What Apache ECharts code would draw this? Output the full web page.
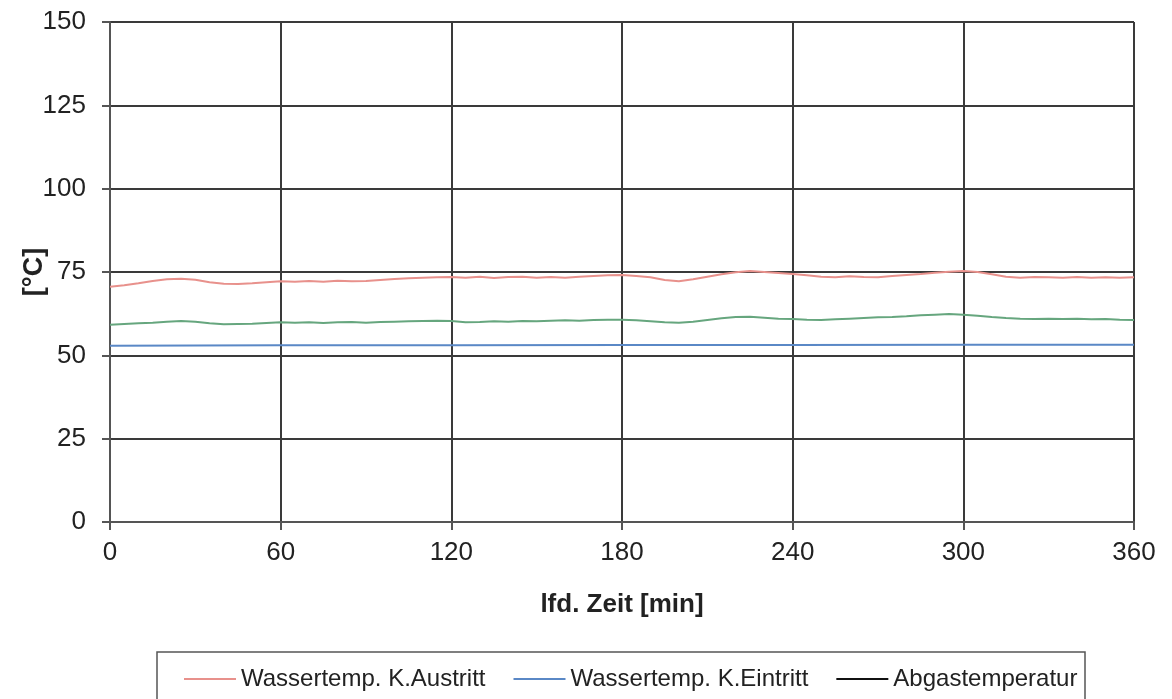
<!DOCTYPE html>
<html>
<head>
<meta charset="utf-8">
<script src="https://cdn.jsdelivr.net/npm/echarts@6/dist/echarts.min.js"></script>
<style>html,body{margin:0;padding:0;background:#fff}#c{width:1172px;height:699px}</style>
</head>
<body>
<div id="c"></div>
<script>
const times = [0,5,10,15,20,25,30,35,40,45,50,55,60,65,70,75,80,85,90,95,100,105,110,115,120,125,130,135,140,145,150,155,160,165,170,175,180,185,190,195,200,205,210,215,220,225,230,235,240,245,250,255,260,265,270,275,280,285,290,295,300,305,310,315,320,325,330,335,340,345,350,355,360];
const austritt = [70.6,71.0,71.6,72.3,72.8,73.0,72.7,71.9,71.5,71.4,71.6,71.9,72.2,72.1,72.3,72.1,72.4,72.2,72.3,72.6,72.9,73.1,73.3,73.4,73.5,73.3,73.6,73.2,73.5,73.6,73.3,73.5,73.3,73.6,73.8,74.0,74.1,73.8,73.4,72.6,72.2,72.8,73.6,74.3,74.9,75.3,75.0,74.7,74.4,74.0,73.6,73.4,73.7,73.5,73.4,73.8,74.1,74.4,74.8,75.1,75.3,75.0,74.3,73.6,73.3,73.5,73.4,73.3,73.5,73.3,73.4,73.3,73.4];
const gruen = [59.2,59.4,59.6,59.8,60.1,60.3,60.1,59.6,59.3,59.4,59.5,59.7,59.9,59.8,59.9,59.7,59.9,60.0,59.8,60.0,60.1,60.2,60.3,60.4,60.3,59.9,60.0,60.2,60.1,60.3,60.2,60.4,60.5,60.4,60.6,60.7,60.7,60.5,60.2,59.9,59.8,60.1,60.6,61.1,61.5,61.6,61.3,61.0,60.9,60.7,60.6,60.8,61.0,61.2,61.4,61.5,61.7,62.0,62.2,62.4,62.2,61.9,61.5,61.2,61.0,60.9,61.0,60.9,61.0,60.8,60.9,60.7,60.6];
const eintrittTimes = [0,60,120,180,240,300,360];
const eintritt = [52.9,53.0,53.0,53.1,53.1,53.2,53.2];
const abgas = [];
const seriesNames = ['Wassertemp. K.Austritt','Wassertemp. K.Eintritt','Abgastemperatur'];

const pairs = (t, v) => v.map((y, i) => [t[i], y]);
const FONT = "'Liberation Sans',Arial,sans-serif";
const chart = echarts.init(document.getElementById('c'), null, {renderer:'canvas'});
chart.setOption({
  animation:false,
  backgroundColor:'#fff',
  grid:{left:110,right:38,top:22,bottom:177,containLabel:false,outerBoundsMode:'none'},
  xAxis:{type:'value',min:0,max:360,interval:60,
    name:'lfd. Zeit [min]',nameLocation:'middle',nameGap:70,nameMoveOverlap:false,
    nameTextStyle:{fontFamily:FONT,fontWeight:'bold',fontSize:26,color:'#222'},
    axisLine:{lineStyle:{color:'#555',width:2}},
    axisTick:{show:true,length:8,lineStyle:{color:'#555',width:2}},
    axisLabel:{fontFamily:FONT,fontSize:26,color:'#222',margin:18},
    splitLine:{show:true,lineStyle:{color:'#3a3a3a',width:2}}},
  yAxis:{type:'value',min:0,max:150,interval:25,
    name:'[°C]',nameLocation:'middle',nameGap:62,nameRotate:90,nameMoveOverlap:false,
    nameTextStyle:{fontFamily:FONT,fontWeight:'bold',fontSize:27,color:'#222'},
    axisLine:{show:true,lineStyle:{color:'#555',width:2}},
    axisTick:{show:true,length:8,lineStyle:{color:'#555',width:2}},
    axisLabel:{fontFamily:FONT,fontSize:26,color:'#222',margin:24},
    splitLine:{show:true,lineStyle:{color:'#3a3a3a',width:2}}},
  legend:{data:seriesNames,left:179,top:662,itemGap:28,itemWidth:52,itemHeight:2,icon:'rect',
    textStyle:{fontFamily:FONT,fontSize:24,color:'#222'}},
  graphic:[{type:'rect',shape:{x:157,y:652,width:928,height:70},style:{fill:'none',stroke:'#555',lineWidth:1.5},silent:true}],
  series:[
    {name:seriesNames[0],type:'line',data:pairs(times,austritt),showSymbol:false,symbol:'none',lineStyle:{color:'#e8918c',width:2},itemStyle:{color:'#e8918c'},z:3},
    {name:seriesNames[1],type:'line',data:pairs(eintrittTimes,eintritt),showSymbol:false,symbol:'none',lineStyle:{color:'#5a88c6',width:2},itemStyle:{color:'#5a88c6'},z:3},
    {name:seriesNames[2],type:'line',data:abgas,showSymbol:false,symbol:'none',lineStyle:{color:'#111',width:2},itemStyle:{color:'#111'},z:3},
    {name:'Serie 4',type:'line',data:pairs(times,gruen),showSymbol:false,symbol:'none',lineStyle:{color:'#66a67e',width:2},itemStyle:{color:'#66a67e'},z:3}
  ]
});
</script>
</body>
</html>
